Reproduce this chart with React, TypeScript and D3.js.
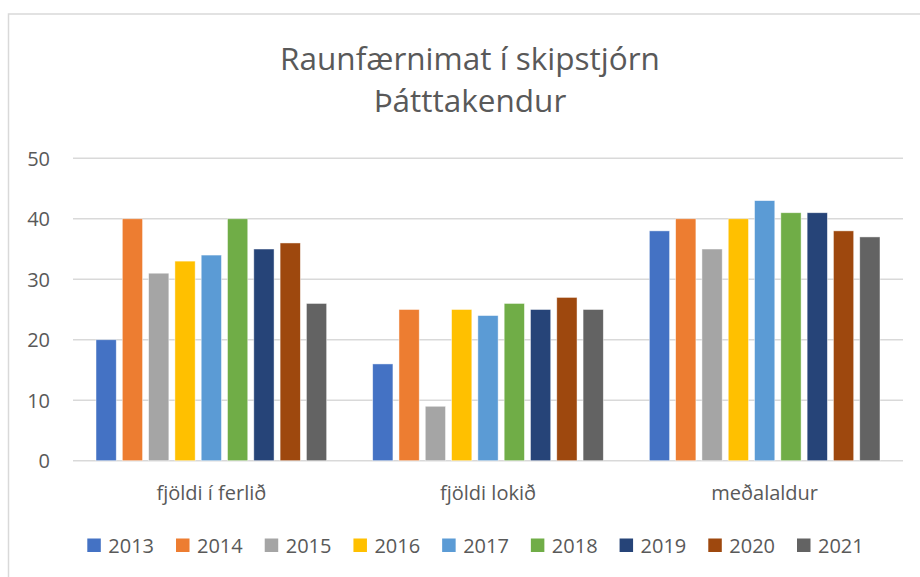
import React from "react";
import * as d3 from "d3";

const categories = ["fjöldi í ferlið", "fjöldi lokið", "meðalaldur"];
const years = ["2013", "2014", "2015", "2016", "2017", "2018", "2019", "2020", "2021"];
const v2013 = [20, 16, 38];
const v2014 = [40, 25, 40];
const v2015 = [31, 9, 35];
const v2016 = [33, 25, 40];
const v2017 = [34, 24, 43];
const v2018 = [40, 26, 41];
const v2019 = [35, 25, 41];
const v2020 = [36, 27, 38];
const v2021 = [26, 25, 37];
const seriesValues = [v2013, v2014, v2015, v2016, v2017, v2018, v2019, v2020, v2021];
const colors = ["#4472C4", "#ED7D31", "#A5A5A5", "#FFC000", "#5B9BD5", "#70AD47", "#264478", "#9E480E", "#636363"];
const yTicks = [0, 10, 20, 30, 40, 50];
const titleLines = ["Raunfærnimat í skipstjórn", "Þátttakendur"];

const W = 920;
const H = 577;
const FONT = "'Open Sans', sans-serif";
const TEXT = "#595959";
const GRID = "#d9d9d9";

export default function App() {
  const x0 = d3.scaleBand<string>().domain(categories).range([73, 903]).paddingInner(0).paddingOuter(0);
  const x1 = d3.scaleBand<string>().domain(years).range([0, x0.bandwidth()]).paddingInner(0.23).paddingOuter(0.875);
  const y = d3.scaleLinear().domain([0, 50]).range([460.7, 158.3]);

  const legendX = d3.scalePoint<string>().domain(years).range([87.3, 797]);

  return (
    <svg width={W} height={H} style={{ position: "absolute", left: 0, top: 0, background: "#fff" }} fontFamily={FONT}>
      <rect x={8.5} y={14} width={1000} height={700} fill="#fff" stroke={GRID} strokeWidth={1.5} />
      {titleLines.map((t, i) => (
        <text key={t} x={470} y={70 + i * 42} textAnchor="middle" fontSize={31.5} fill={TEXT}>
          {t}
        </text>
      ))}
      {yTicks.map((t) => (
        <g key={t}>
          <line x1={73} x2={903} y1={y(t)} y2={y(t)} stroke={GRID} strokeWidth={1.5} />
          <text x={50} y={y(t) + 7.3} textAnchor="end" fontSize={20} fill={TEXT}>
            {t}
          </text>
        </g>
      ))}
      {categories.map((c, ci) => (
        <g key={c}>
          {years.map((yr, si) => {
            const v = seriesValues[si][ci];
            const bx = (x0(c) || 0) + (x1(yr) || 0);
            return (
              <rect
                key={yr}
                x={bx}
                y={y(v)}
                width={x1.bandwidth()}
                height={y(0) - y(v)}
                fill={colors[si]}
                stroke="#fff"
                strokeOpacity={0.6}
                strokeWidth={0.75}
              />
            );
          })}
          <text x={(x0(c) || 0) + x0.bandwidth() / 2} y={500} textAnchor="middle" fontSize={20} fill={TEXT}>
            {c}
          </text>
        </g>
      ))}
      {years.map((yr, i) => (
        <g key={yr}>
          <rect x={legendX(yr)} y={538.5} width={13.5} height={13.5} fill={colors[i]} />
          <text x={(legendX(yr) || 0) + 21} y={552.7} fontSize={20} fill={TEXT}>
            {yr}
          </text>
        </g>
      ))}
    </svg>
  );
}
